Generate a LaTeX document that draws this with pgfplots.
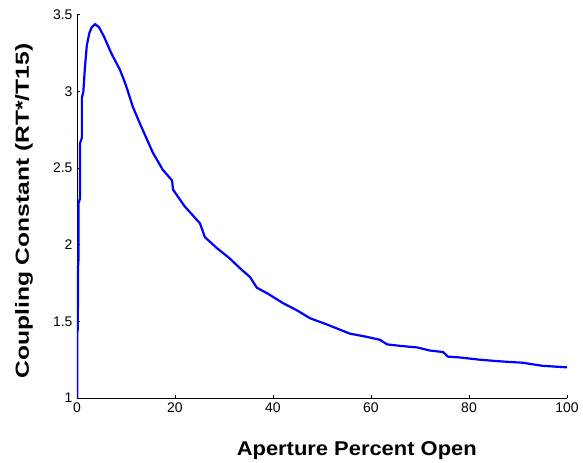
\documentclass[border=0pt]{standalone}
\usepackage{pgfplots}
\pgfplotsset{compat=1.18}
\usepackage{fontspec}
\setmainfont{Liberation Sans}
\newfontfamily\xlabfont[FakeStretch=1.1]{Liberation Sans}
\newfontfamily\ylabfont[FakeStretch=1.3]{Liberation Sans}

\begin{document}
\begin{tikzpicture}
\begin{axis}[
    scale only axis,
    width=490bp, height=383bp,
    xmin=0, xmax=100,
    ymin=1, ymax=3.5,
    axis x line=bottom,
    axis y line=left,
    axis line style={-, line width=0.8pt},
    xtick={0,20,...,100},
    ytick={1,1.5,...,3.5},
    tick align=inside,
    major tick length=3pt,
    tick style={black, line width=1pt},
    /pgf/number format/assume math mode=true,
    tick label style={font=\fontsize{14}{16}\selectfont},
    xticklabel style={yshift=-1pt},
    yticklabel style={xshift=-1pt},
    xlabel={\xlabfont\bfseries Aperture Percent Open},
    ylabel={\ylabfont\bfseries Coupling Constant (RT*/T15)},
    xlabel style={font=\fontsize{20}{22}\selectfont,
        at={(axis description cs:0.571,-0.149)}, anchor=base},
    ylabel style={font=\fontsize{19}{21}\selectfont,
        at={(axis description cs:-0.108,0.488)}, anchor=center},
]
\addplot[color={rgb,255:red,0;green,0;blue,255}, line width=2.2bp] coordinates {
(0,1) (0.05,1.0) (0.05,1.42) (0.15,1.45) (0.15,1.55) (0.2,1.6) (0.2,1.85)
(0.3,1.9) (0.3,2.27) (0.6,2.3) (0.6,2.66) (1.0,2.7) (1.0,2.96) (1.3,3.0)
(1.6,3.15) (2.0,3.3) (2.5,3.38) (3.0,3.42) (3.7,3.44) (4.5,3.42) (5.5,3.36)
(7,3.25) (8.8,3.14) (10,3.04) (11.4,2.90) (13,2.78) (15.5,2.60) (17.5,2.49)
(19.4,2.42) (19.6,2.36) (22,2.25) (25.1,2.14) (26.1,2.05) (28.5,1.98)
(31.2,1.91) (33.5,1.84) (35.3,1.79) (36.7,1.72) (39,1.68) (42,1.62)
(45,1.57) (47.6,1.52) (51,1.48) (55.7,1.42) (59,1.40) (61.8,1.38)
(63.3,1.35) (66,1.34) (69.4,1.33) (72,1.31) (74.7,1.30) (75.7,1.27)
(78,1.265) (82.2,1.25) (86,1.24) (91,1.23) (95,1.21) (100,1.20)
};
\end{axis}
\path (current axis.south west) ++(-77bp,-64bp);
\path (current axis.north east) ++(16bp,15bp);
\end{tikzpicture}
\end{document}
